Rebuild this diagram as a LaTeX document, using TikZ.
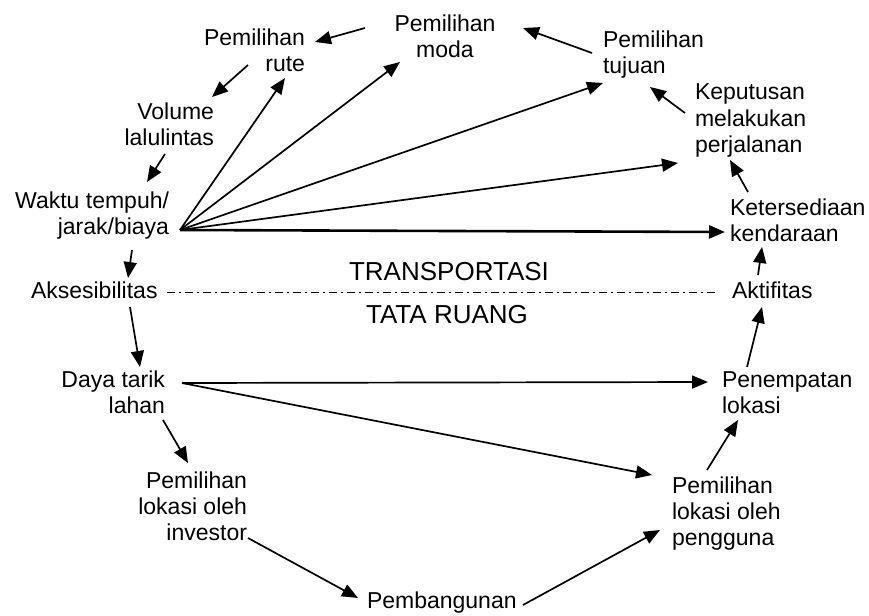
\documentclass[tikz,border=0pt]{standalone}
\usepackage{fontspec}
\setmainfont{Liberation Sans}
\usetikzlibrary{arrows.meta}

% multi-line labels whose baseline is the first line
\newcommand\txr[1]{\begin{tabular}[t]{@{}r@{}}#1\end{tabular}}
\newcommand\txl[1]{\begin{tabular}[t]{@{}l@{}}#1\end{tabular}}
\newcommand\txc[1]{\begin{tabular}[t]{@{}c@{}}#1\end{tabular}}

\begin{document}
\begin{tikzpicture}[x=1pt,y=-1pt,
  lbl/.style={inner sep=0pt,outer sep=0pt,font=\fontsize{23}{26}\selectfont},
  zone/.style={inner sep=0pt,outer sep=0pt,font=\fontsize{26}{30}\selectfont},
  link/.style={line width=1.7pt,-{Triangle[length=16pt,width=13pt]}},
  mainlink/.style={line width=2.6pt,-{Triangle[length=16pt,width=13pt]}},
  border/.style={line width=1pt,dash pattern=on 8pt off 4pt on 2pt off 4pt}]
\useasboundingbox (0,0) rectangle (869,615);

% transport side
\node[lbl,anchor=base] (moda) at (445,32) {\txc{Pemilihan\\moda}};
\node[lbl,anchor=base east] (rute) at (305,46) {\txr{Pemilihan\\rute}};
\node[lbl,anchor=base east] (volume) at (214,119) {\txr{Volume\\lalulintas}};
\node[lbl,anchor=base east] (waktu) at (169,208) {\txr{Waktu tempuh/\\jarak/biaya}};
\node[lbl,anchor=base west] (akses) at (31,298) {Aksesibilitas};
\node[lbl,anchor=base west] (tujuan) at (603,48) {\txl{Pemilihan\\tujuan}};
\node[lbl,anchor=base west] (keputusan) at (695,100) {\txl{Keputusan\\melakukan\\perjalanan}};
\node[lbl,anchor=base west] (sedia) at (730,215) {\txl{Ketersediaan\\kendaraan}};
\node[lbl,anchor=base west] (aktif) at (732,298) {Aktifitas};

% land-use side
\node[lbl,anchor=base east] (daya) at (165,387) {\txr{Daya tarik\\lahan}};
\node[lbl,anchor=base east] (investor) at (247,488) {\txr{Pemilihan\\lokasi oleh\\investor}};
\node[lbl,anchor=base west] (bangun) at (367,608) {Pembangunan};
\node[lbl,anchor=base west] (pengguna) at (672,493) {\txl{Pemilihan\\lokasi oleh\\pengguna}};
\node[lbl,anchor=base west] (tempat) at (722,387) {\txl{Penempatan\\lokasi}};

% zone titles and dividing line
\node[zone,anchor=base] (trans) at (449,280) {TRANSPORTASI};
\node[zone,anchor=base] (ruang) at (447,323) {TATA RUANG};
\draw[border] ([shift={(136,-6)}]akses.base west) -- ([shift={(-15,-6)}]aktif.base west);

% transport chain
\draw[link] ([shift={(-80,-4)}]moda.base) -- ([shift={(10,-4)}]rute.base east);
\draw[link] ([shift={(-11,5)}]tujuan.base west) -- ([shift={(78,-4)}]moda.base);
\draw[link] ([shift={(-57,19)}]rute.base east) -- ([shift={(-2,-22)}]volume.base east);
\draw[link] ([shift={(-49,35)}]volume.base east) -- ([shift={(-22,-26)}]waktu.base east);
\draw[link] ([shift={(11,22)}]waktu.base east) -- ([shift={(-20,32)}]rute.base east);
\draw[link] ([shift={(11,22)}]waktu.base east) -- ([shift={(-45,30)}]moda.base);
\draw[link] ([shift={(11,22)}]waktu.base east) -- ([shift={(0,35)}]tujuan.base west);
\draw[link] ([shift={(11,22)}]waktu.base east) -- ([shift={(-17,63)}]keputusan.base west);
\draw[mainlink] ([shift={(11,22)}]waktu.base east) -- ([shift={(-5,17)}]sedia.base west);
\draw[link] ([shift={(-37,42)}]waktu.base east) -- ([shift={(97,-20)}]akses.base west);
\draw[link] ([shift={(-10,13)}]keputusan.base west) -- ([shift={(47,39)}]tujuan.base west);
\draw[link] ([shift={(18,-23)}]sedia.base west) -- ([shift={(35,60)}]keputusan.base west);
\draw[link] ([shift={(26,-23)}]aktif.base west) -- ([shift={(32,32)}]sedia.base west);

% land-use chain
\draw[link] ([shift={(99,9)}]akses.base west) -- ([shift={(-25,-20)}]daya.base east);
\draw[link] ([shift={(17,-4)}]daya.base east) -- ([shift={(-14,-5)}]tempat.base west);
\draw[link] ([shift={(17,-4)}]daya.base east) -- ([shift={(-20,-18)}]pengguna.base west);
\draw[link] ([shift={(-2,33)}]daya.base east) -- ([shift={(-59,-25)}]investor.base east);
\draw[link] ([shift={(1,50)}]investor.base east) -- ([shift={(-9,-10)}]bangun.base west);
\draw[link] ([shift={(156,-3)}]bangun.base west) -- ([shift={(-12,37)}]pengguna.base west);
\draw[link] ([shift={(35,-23)}]pengguna.base west) -- ([shift={(16,33)}]tempat.base west);
\draw[link] ([shift={(25,-20)}]tempat.base west) -- ([shift={(30,9)}]aktif.base west);
\end{tikzpicture}
\end{document}
